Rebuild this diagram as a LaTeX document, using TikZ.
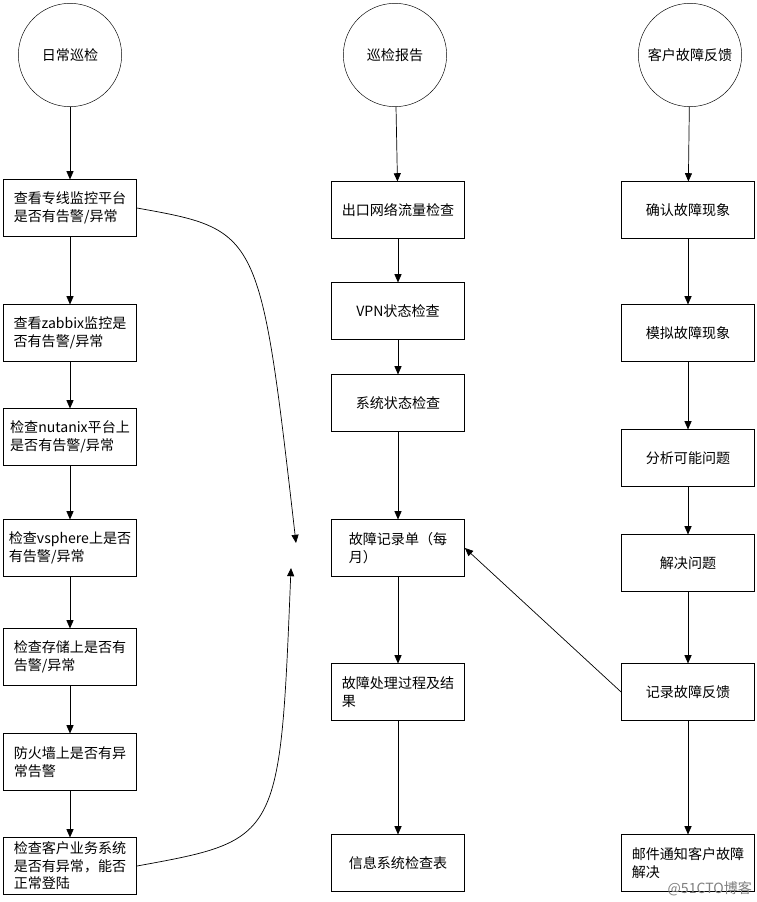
\documentclass[tikz,border=0pt]{standalone}
\usepackage{fontspec}
\setmainfont{Noto Sans CJK SC}
\usetikzlibrary{positioning,arrows.meta}
\tikzset{
  start/.style={draw, circle, minimum size=3.1cm, font=\fontsize{12}{15}\selectfont},
  stepbox/.style={draw, minimum width=4.0cm, minimum height=1.7cm, inner xsep=2pt, align=left, font=\fontsize{12}{15}\selectfont, fill=white},
  flow/.style={-{Triangle[length=7pt,width=6pt]}, semithick},
}
\begin{document}
\begin{tikzpicture}[x=0.03cm, y=-0.03cm]
  \useasboundingbox (0,0) rectangle (756,902);
  % Column 1: daily check
  \node[start] (daily) at (70,55) {日常巡检};
  \node[stepbox] (d1) at (70,208) {查看专线监控平台\\是否有告警/异常};
  \node[stepbox] (d2) at (70,333) {查看zabbix监控是\\否有告警/异常};
  \node[stepbox] (d3) at (70,437) {检查nutanix平台上\\是否有告警/异常};
  \node[stepbox] (d4) at (70,548) {检查vsphere上是否\\有告警/异常};
  \node[stepbox] (d5) at (70,657) {检查存储上是否有\\告警/异常};
  \node[stepbox] (d6) at (70,762) {防火墙上是否有异\\常告警};
  \node[stepbox] (d7) at (70,866) {检查客户业务系统\\是否有异常，能否\\正常登陆};
  % Column 2: report
  \node[start] (report) at (395,55) {巡检报告};
  \node[stepbox] (r1) at (398,210) {出口网络流量检查};
  \node[stepbox] (r2) at (398,311) {VPN状态检查};
  \node[stepbox] (r3) at (398,403) {系统状态检查};
  \node[stepbox] (r4) at (398,548) {故障记录单（每\\月）};
  \node[stepbox] (r5) at (398,692) {故障处理过程及结\\果};
  \node[stepbox] (r6) at (398,863) {信息系统检查表};
  % Column 3: customer feedback
  \node[start] (cust) at (690,55) {客户故障反馈};
  \node[stepbox] (c1) at (688,210) {确认故障现象};
  \node[stepbox] (c2) at (688,333) {模拟故障现象};
  \node[stepbox] (c3) at (688,458) {分析可能问题};
  \node[stepbox] (c4) at (688,563) {解决问题};
  \node[stepbox] (c5) at (688,692) {记录故障反馈};
  \node[stepbox] (c6) at (688,863) {邮件通知客户故障\\解决};
  \coordinate (inA) at (296,543);
  \coordinate (inB) at (291,568);
  \foreach \a/\b in {daily/d1,d1/d2,d2/d3,d3/d4,d4/d5,d5/d6,d6/d7,
                     report/r1,r1/r2,r2/r3,r3/r4,r4/r5,r5/r6,
                     cust/c1,c1/c2,c2/c3,c3/c4,c4/c5,c5/c6}
    \draw[flow] (\a) -- (\b);
  \draw[flow] (d1.east) .. controls (260,230) .. (inA);
  \draw[flow] (d7.east) .. controls (280,840) .. (inB);
  \draw[flow] (c5.west) -- (r4.east);
  \node[anchor=south east, font=\fontsize{12}{14}\selectfont, text=gray] (mark) at (756,900) {@51CTO博客};
\end{tikzpicture}
\end{document}
